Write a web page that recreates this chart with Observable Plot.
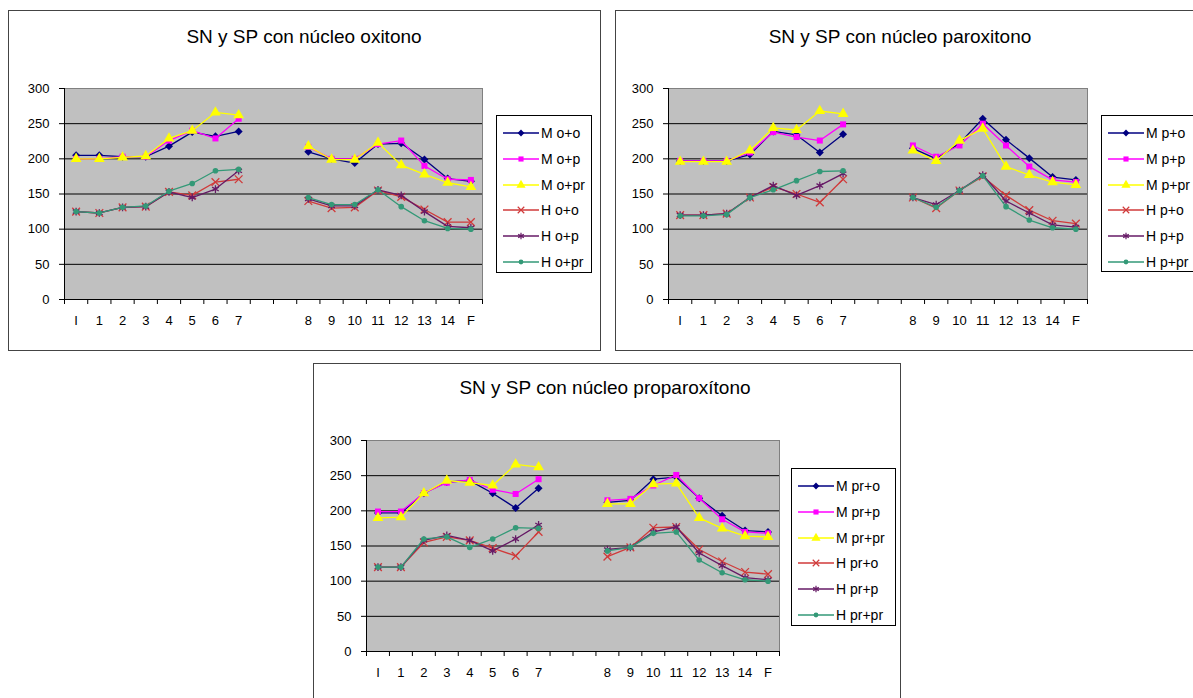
<!DOCTYPE html>
<html><head><meta charset="utf-8">
<script src="https://cdn.jsdelivr.net/npm/d3@7"></script>
<script src="https://cdn.jsdelivr.net/npm/@observablehq/plot@0.6"></script>
<style>
body{margin:0;width:1193px;height:698px;overflow:hidden;background:#fff;position:relative;font-family:Arial,"Liberation Sans",sans-serif;}
.panel{position:absolute;border:1px solid #444;background:#fff;box-sizing:border-box;}
.title{position:absolute;font-size:19px;color:#000;white-space:nowrap;transform:translate(-50%,-50%);}
.plotwrap{position:absolute;}
.legend{position:absolute;border:1px solid #000;background:#fff;box-sizing:border-box;overflow:hidden;}
.legend .row{position:absolute;left:0;height:20px;display:flex;align-items:center;font-size:14px;white-space:nowrap;color:#000;}
.legend svg{display:block;}
</style></head><body>
<script>
// ---- data ----
const categories = ["I","1","2","3","4","5","6","7","","","8","9","10","11","12","13","14","F"];
const yTicks = [0,50,100,150,200,250,300];

const oxNames = ["M o+o","M o+p","M o+pr","H o+o","H o+p","H o+pr"];
const ox_M_oo  = [205,205,203,203,218,238,232,239,null,null,210,200,194,221,222,199,172,168];
const ox_M_op  = [200,200,203,203,226,240,229,257,null,null,217,200,200,221,226,190,171,170];
const ox_M_opr = [200,200,202,204,229,240,266,262,null,null,218,199,199,223,191,178,166,160];
const ox_H_oo  = [125,123,131,132,153,148,167,171,null,null,140,130,131,155,146,128,110,110];
const ox_H_op  = [125,123,131,132,153,145,157,183,null,null,143,133,133,156,148,125,104,102];
const ox_H_opr = [125,123,131,133,154,165,183,185,null,null,145,135,135,156,132,112,101,100];

const parNames = ["M p+o","M p+p","M p+pr","H p+o","H p+p","H p+pr"];
const par_M_po  = [197,197,197,206,239,234,209,235,null,null,215,200,222,257,227,201,174,170];
const par_M_pp  = [197,197,197,209,238,231,226,249,null,null,219,203,219,250,219,189,170,167];
const par_M_ppr = [196,196,196,212,244,241,268,264,null,null,212,197,226,243,189,177,167,163];
const par_H_po  = [120,120,122,145,160,150,138,171,null,null,145,130,155,175,148,127,112,108];
const par_H_pp  = [120,120,122,145,162,148,162,179,null,null,145,135,155,177,140,123,106,103];
const par_H_ppr = [119,119,121,145,156,169,182,183,null,null,145,131,155,176,132,113,102,100];

const proNames = ["M pr+o","M pr+p","M pr+pr","H pr+o","H pr+p","H pr+pr"];
const pro_M_pro  = [197,197,225,241,243,225,204,232,null,null,212,215,245,248,218,193,172,170];
const pro_M_prp  = [199,199,225,240,244,230,224,245,null,null,215,217,236,251,218,188,170,168];
const pro_M_prpr = [190,191,225,243,240,236,266,262,null,null,210,210,238,239,190,175,164,163];
const pro_H_pro  = [120,120,155,163,158,147,136,170,null,null,135,148,176,177,145,128,113,110];
const pro_H_prp  = [120,120,158,165,158,143,160,180,null,null,145,148,170,177,140,122,105,102];
const pro_H_prpr = [120,120,160,163,148,160,176,175,null,null,143,148,168,170,130,112,102,100];

const titles = ["SN y SP con núcleo oxitono","SN y SP con núcleo paroxitono","SN y SP con núcleo proparoxítono"];

// ---- styles ----
const seriesStyle = [
  {color:"#000080", symbol:"diamond2", r:3.6, filled:true},
  {color:"#FF00FF", symbol:"square", r:3.4, filled:true},
  {color:"#FFFF00", symbol:"triangle", r:4.0, filled:true},
  {color:"#D03A3A", symbol:"times", r:3.6, filled:false},
  {color:"#661A66", symbol:"asterisk", r:3.6, filled:false},
  {color:"#339977", symbol:"circle", r:2.8, filled:true}
];

const panels = [
  {box:[8,10,593,341], titlePos:[304,37], plot:[64,88,482,299], legend:[496,115,96,158],
   names:oxNames, values:[ox_M_oo,ox_M_op,ox_M_opr,ox_H_oo,ox_H_op,ox_H_opr], title:titles[0]},
  {box:[615,10,600,341], titlePos:[900,37], plot:[668,88,1087,299], legend:[1101,115,110,157],
   names:parNames, values:[par_M_po,par_M_pp,par_M_ppr,par_H_po,par_H_pp,par_H_ppr], title:titles[1]},
  {box:[313,363,588,360], titlePos:[605,388], plot:[366,440,779,651], legend:[791,468,105,158],
   names:proNames, values:[pro_M_pro,pro_M_prp,pro_M_prpr,pro_H_pro,pro_H_prp,pro_H_prpr], title:titles[2]}
];

function el(tag, cls, parent){const e=document.createElement(tag); if(cls) e.className=cls; parent.appendChild(e); return e;}

const symMap = {diamond2:d3.symbolDiamond2, square:d3.symbolSquare, triangle:d3.symbolTriangle, times:d3.symbolTimes, asterisk:d3.symbolAsterisk, circle:d3.symbolCircle};

panels.forEach(p => {
  const box = el("div","panel",document.body);
  Object.assign(box.style,{left:p.box[0]+"px",top:p.box[1]+"px",width:p.box[2]+"px",height:p.box[3]+"px"});
  const t = el("div","title",document.body);
  t.textContent = p.title;
  Object.assign(t.style,{left:p.titlePos[0]+"px",top:p.titlePos[1]+"px"});

  const mL=60, mR=8, mT=8, mB=34;
  const [x0,y0,x1,y1] = p.plot;
  const rows = [];
  p.values.forEach((vals, si) => vals.forEach((v,i) => rows.push({s:si, x:i+0.5, y:v})));
  const marks = [
    Plot.frame({fill:"#C0C0C0", stroke:"#808080"}),
    Plot.ruleY([50,100,150,200,250], {stroke:"#000", strokeWidth:1}),
    Plot.ruleX([0], {stroke:"#000"}),
    Plot.ruleY([0], {stroke:"#000"}),
    Plot.axisY({ticks:yTicks, tickSize:5, tickPadding:10, fontSize:13, tickFormat:d=>String(d), stroke:"#000", color:"#000", label:null}),
    Plot.axisX({ticks:d3.range(19), tickSize:5, tickFormat:()=>"", stroke:"#000", label:null}),
    Plot.axisX({ticks:d3.range(18).map(i=>i+0.5), tickSize:0, tickPadding:16, fontSize:13, color:"#000", label:null,
      tickFormat:i=>categories[Math.floor(i)]})
  ];
  seriesStyle.forEach((st, si) => {
    const data = rows.filter(r => r.s === si);
    marks.push(Plot.line(data, {x:"x", y:"y", stroke:st.color, strokeWidth:1.3}));
    marks.push(Plot.dot(data.filter(d=>d.y!=null), {x:"x", y:"y", symbol:st.symbol, r:st.r,
      fill: st.filled ? st.color : "none", stroke: st.filled ? "none" : st.color, strokeWidth:1.3}));
  });
  const chart = Plot.plot({
    width: (x1-x0)+mL+mR, height:(y1-y0)+mT+mB,
    marginLeft:mL, marginRight:mR, marginTop:mT, marginBottom:mB,
    style:{background:"transparent", fontFamily:"Arial, 'Liberation Sans', sans-serif", color:"#000", overflow:"visible"},
    x:{type:"linear", domain:[0,18], axis:null},
    y:{domain:[0,300], axis:null},
    marks
  });
  const w = el("div","plotwrap",document.body);
  Object.assign(w.style,{left:(x0-mL)+"px", top:(y0-mT)+"px"});
  w.appendChild(chart);

  // legend
  const lg = el("div","legend",document.body);
  Object.assign(lg.style,{left:p.legend[0]+"px",top:p.legend[1]+"px",width:p.legend[2]+"px",height:p.legend[3]+"px"});
  p.names.forEach((nm, si) => {
    const st = seriesStyle[si];
    const row = el("div","row",lg);
    row.style.top = (17 + si*25.8 - 10) + "px";
    const ns = "http://www.w3.org/2000/svg";
    const svg = document.createElementNS(ns,"svg");
    svg.setAttribute("width","44"); svg.setAttribute("height","14");
    const ln = document.createElementNS(ns,"line");
    ln.setAttribute("x1","6"); ln.setAttribute("x2","42"); ln.setAttribute("y1","7"); ln.setAttribute("y2","7");
    ln.setAttribute("stroke",st.color); ln.setAttribute("stroke-width","1.3");
    svg.appendChild(ln);
    const path = document.createElementNS(ns,"path");
    const rr = st.r*0.85;
    path.setAttribute("d", d3.symbol(symMap[st.symbol], rr*rr*Math.PI)());
    path.setAttribute("transform","translate(24,7)");
    path.setAttribute("fill", st.filled ? st.color : "none");
    path.setAttribute("stroke", st.filled ? "none" : st.color);
    path.setAttribute("stroke-width","1.2");
    svg.appendChild(path);
    row.appendChild(svg);
    const sp = document.createElement("span");
    sp.textContent = nm;
    row.appendChild(sp);
  });
});
</script>
</body></html>
